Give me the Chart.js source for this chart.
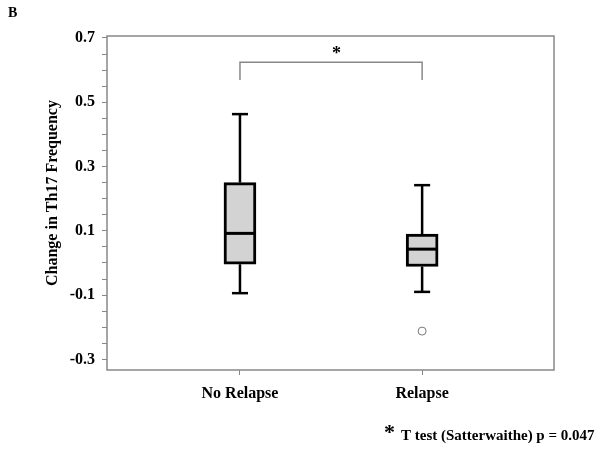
<!DOCTYPE html>
<html>
<head>
<meta charset="utf-8">
<script src="https://cdn.jsdelivr.net/npm/chart.js@4"></script>
<style>
  body { margin: 0; background: #fff; }
  #wrap { width: 600px; height: 451px; position: relative; }
</style>
</head>
<body>
<div id="wrap"><canvas id="chart" width="600" height="451"></canvas></div>
<script>
// Box plot data
var categories = ['No Relapse', 'Relapse'];
var whiskerLow = [-0.094, -0.090];
var q1 = [-0.004, -0.011];
var median = [0.092, 0.043];
var q3 = [0.250, 0.090];
var whiskerHigh = [0.463, 0.242];
var outliers = [[], [-0.212]];

var yTickLabels = ['0.7', '0.5', '0.3', '0.1', '-0.1', '-0.3'];
var yMinorStep = 0.05;
var yTitle = 'Change in Th17 Frequency';

// significance bracket between the two groups
var bracketTop = 0.624;
var bracketLeg = 0.569;

var serif = '"Liberation Serif", "Times New Roman", serif';
var capHalf = 0.044;   // whisker cap half width, x units
var boxHalf = 0.085;   // median half width, x units

var datasets = [];

// median lines
categories.forEach(function (c, i) {
    var x = i + 1;
    datasets.push({
        type: 'scatter', showLine: true, borderColor: '#000', borderWidth: 3,
        pointRadius: 0, data: [{x: x - boxHalf, y: median[i]}, {x: x + boxHalf, y: median[i]}]
    });
});

// boxes
datasets.push({
    type: 'bar',
    data: categories.map(function (c, i) { return {x: i + 1, y: [q1[i], q3[i]]}; }),
    backgroundColor: '#d3d3d3',
    borderColor: '#000',
    borderWidth: 3,
    borderSkipped: false,
    barThickness: 32
});

// whiskers and caps
categories.forEach(function (c, i) {
    var x = i + 1;
    var segs = [
        [{x: x, y: q3[i]}, {x: x, y: whiskerHigh[i]}],
        [{x: x, y: q1[i]}, {x: x, y: whiskerLow[i]}],
        [{x: x - capHalf, y: whiskerHigh[i]}, {x: x + capHalf, y: whiskerHigh[i]}],
        [{x: x - capHalf, y: whiskerLow[i]}, {x: x + capHalf, y: whiskerLow[i]}]
    ];
    segs.forEach(function (s) {
        datasets.push({
            type: 'scatter', showLine: true, borderColor: '#000', borderWidth: 2.5,
            pointRadius: 0, data: s
        });
    });
});

// outliers
var outlierPts = [];
outliers.forEach(function (list, i) {
    list.forEach(function (v) { outlierPts.push({x: i + 1, y: v}); });
});
datasets.push({
    type: 'scatter', data: outlierPts, pointRadius: 4, pointBorderWidth: 1,
    pointBorderColor: '#777', pointBackgroundColor: '#fff'
});

// bracket
datasets.push({
    type: 'scatter', showLine: true, borderColor: '#888', borderWidth: 1.5, pointRadius: 0,
    data: [{x: 1, y: bracketLeg}, {x: 1, y: bracketTop}, {x: 2, y: bracketTop}, {x: 2, y: bracketLeg}]
});

const extras = {
    id: 'extras',
    afterDraw: function (chart) {
        var ctx = chart.ctx;
        var a = chart.chartArea;
        var xs = chart.scales.x, ys = chart.scales.y;
        ctx.save();
        ctx.strokeStyle = '#888';
        ctx.lineWidth = 1.5;
        ctx.strokeRect(a.left, a.top, a.right - a.left, a.bottom - a.top);

        ctx.fillStyle = '#000';
        ctx.textBaseline = 'middle';
        ctx.textAlign = 'center';
        ctx.font = 'bold 18px ' + serif;
        ctx.fillText('*', xs.getPixelForValue(1.53), ys.getPixelForValue(0.648));

        // y axis title
        ctx.save();
        ctx.translate(53, 193);
        ctx.rotate(-Math.PI / 2);
        ctx.font = 'bold 16px ' + serif;
        ctx.fillText(yTitle, 0, 0);
        ctx.restore();

        ctx.textAlign = 'left';
        ctx.font = 'bold 14px ' + serif;
        ctx.fillText('B', 8, 13);

        ctx.font = 'bold 22px ' + serif;
        ctx.fillText('*', 384, 433);
        ctx.font = 'bold 15px ' + serif;
        ctx.fillText('T test (Satterwaithe) p = 0.047', 401, 436);
        ctx.restore();
    }
};

const ctx = document.getElementById('chart').getContext('2d');
const boxChart = new Chart(ctx, {
    data: {datasets: datasets},
    options: {
        responsive: false,
        animation: false,
        layout: {padding: {left: 43, top: 36, right: 46, bottom: 0}},
        plugins: {legend: {display: false}, tooltip: {enabled: false}},
        scales: {
            x: {
                type: 'linear',
                min: 0.27,
                max: 2.724,
                offset: false,
                afterFit: function (s) { s.height = 81; },
                afterBuildTicks: function (s) {
                    s.ticks = categories.map(function (c, i) { return {value: i + 1}; });
                },
                ticks: {
                    padding: 9,
                    color: '#000',
                    font: {family: serif, size: 16, weight: 'bold'},
                    callback: function (v) { return categories[v - 1]; }
                },
                grid: {offset: false, drawOnChartArea: false, drawTicks: true, tickLength: 5, color: '#888'},
                border: {display: false}
            },
            y: {
                min: -0.333,
                max: 0.706,
                afterFit: function (s) { s.width = 64; },
                afterBuildTicks: function (s) {
                    var t = [];
                    for (var k = 0; k <= 20; k++) {
                        t.push({value: Math.round((-0.3 + k * yMinorStep) * 100) / 100});
                    }
                    s.ticks = t;
                },
                ticks: {
                    padding: 7,
                    color: '#000',
                    autoSkip: false,
                    font: {family: serif, size: 16, weight: 'bold'},
                    callback: function (v) {
                        var lbl = yTickLabels.find(function (l) { return Math.abs(parseFloat(l) - v) < 1e-6; });
                        return lbl === undefined ? '' : lbl;
                    }
                },
                grid: {drawOnChartArea: false, drawTicks: true, tickLength: 5, color: '#888'},
                border: {display: false}
            }
        }
    },
    plugins: [extras]
});
</script>
</body>
</html>
